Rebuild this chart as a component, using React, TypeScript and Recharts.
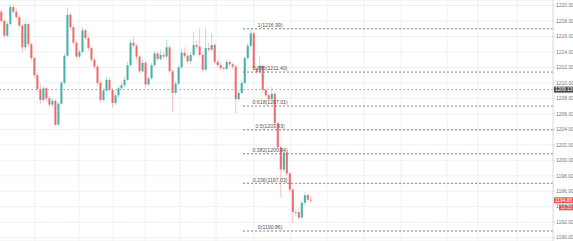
import React from "react";
import {
  ComposedChart,
  Bar,
  XAxis,
  YAxis,
  CartesianGrid,
  ReferenceLine,
} from "recharts";

const opens = [
  1219.2, 1218.0, 1216.1, 1217.6, 1219.8, 1219.2, 1218.5, 1217.4, 1214.6, 1217.6,
  1215.0, 1213.2, 1211.0, 1209.2, 1207.8, 1209.3, 1208.0, 1207.2, 1207.7, 1204.6,
  1207.3, 1210.0, 1213.5, 1218.8, 1217.2, 1215.2, 1213.4, 1214.0, 1216.8, 1215.8,
  1214.5, 1213.0, 1212.1, 1210.0, 1207.8, 1209.0, 1210.4, 1209.1, 1207.4, 1208.4,
  1209.3, 1209.7, 1210.4, 1212.3, 1215.2, 1214.8, 1213.4, 1211.5, 1212.6, 1209.8,
  1210.6, 1212.3, 1213.8, 1213.1, 1213.6, 1213.4, 1214.6, 1211.5, 1208.7, 1209.9,
  1212.0, 1213.9, 1213.5, 1212.8, 1213.6, 1214.9, 1214.7, 1213.6, 1211.7, 1214.5,
  1214.3, 1214.9, 1212.7, 1212.3, 1211.9, 1211.8, 1212.7, 1212.4, 1212.1, 1207.9,
  1208.7, 1210.0, 1213.2, 1214.8, 1216.4, 1211.9, 1211.4, 1212.2, 1209.1, 1208.4,
  1207.9, 1208.6, 1204.8, 1201.7, 1198.8, 1201.0, 1198.3, 1196.2, 1193.3, 1193.3,
  1192.6, 1194.5, 1195.5, 1194.9,
];
const highs = [
  1219.5, 1218.2, 1217.9, 1220.2, 1220.1, 1219.6, 1218.8, 1217.6, 1218.0, 1217.8,
  1215.3, 1213.4, 1211.3, 1209.9, 1209.6, 1209.5, 1208.3, 1208.0, 1207.9, 1207.5,
  1210.3, 1213.8, 1219.7, 1219.0, 1217.5, 1215.4, 1214.3, 1217.2, 1217.0, 1216.0,
  1214.7, 1213.2, 1212.3, 1210.2, 1209.3, 1210.8, 1210.6, 1209.3, 1208.7, 1209.6,
  1210.1, 1210.8, 1212.7, 1215.6, 1215.9, 1215.0, 1213.6, 1213.0, 1212.8, 1210.9,
  1212.6, 1214.1, 1214.0, 1214.3, 1214.0, 1215.6, 1214.8, 1211.8, 1210.2, 1212.3,
  1214.4, 1214.6, 1213.8, 1214.0, 1216.6, 1215.4, 1217.0, 1213.9, 1217.1, 1215.2,
  1216.4, 1215.1, 1213.0, 1212.6, 1212.2, 1213.1, 1212.9, 1212.6, 1212.3, 1209.0,
  1210.3, 1213.5, 1215.2, 1216.99, 1216.6, 1212.1, 1213.4, 1212.4, 1209.3, 1208.6,
  1209.5, 1208.8, 1205.0, 1201.9, 1201.3, 1201.2, 1198.5, 1196.4, 1193.6, 1193.9,
  1194.8, 1195.9, 1195.8, 1195.4,
];
const lows = [
  1217.8, 1215.8, 1215.9, 1217.4, 1218.9, 1218.2, 1217.0, 1214.0, 1214.2, 1214.6,
  1212.9, 1210.6, 1208.9, 1207.2, 1207.5, 1207.5, 1206.9, 1206.9, 1204.4, 1204.5,
  1207.1, 1209.8, 1213.3, 1216.8, 1214.9, 1213.1, 1213.2, 1213.8, 1215.5, 1214.2,
  1212.7, 1211.8, 1209.6, 1207.4, 1207.6, 1208.8, 1208.8, 1206.8, 1207.2, 1208.1,
  1209.0, 1209.4, 1210.2, 1212.0, 1214.4, 1213.0, 1211.2, 1211.3, 1209.4, 1209.6,
  1210.4, 1212.0, 1212.8, 1212.9, 1213.1, 1213.2, 1211.2, 1206.2, 1208.5, 1209.7,
  1211.8, 1213.2, 1212.5, 1212.4, 1213.4, 1214.4, 1213.3, 1211.3, 1211.5, 1214.0,
  1214.1, 1212.4, 1212.0, 1211.6, 1211.5, 1211.6, 1212.1, 1211.8, 1206.1, 1207.6,
  1208.5, 1209.8, 1213.0, 1214.6, 1211.6, 1211.1, 1211.2, 1208.8, 1208.1, 1207.6,
  1207.7, 1204.5, 1201.4, 1195.2, 1198.5, 1197.9, 1195.8, 1191.9, 1192.8, 1192.3,
  1192.4, 1194.2, 1194.6, 1194.5,
];
const closes = [
  1218.0, 1216.1, 1217.6, 1219.8, 1219.2, 1218.5, 1217.4, 1214.6, 1217.6, 1215.0,
  1213.2, 1211.0, 1209.2, 1207.8, 1209.3, 1208.0, 1207.2, 1207.7, 1204.6, 1207.3,
  1210.0, 1213.5, 1218.8, 1217.2, 1215.2, 1213.4, 1214.0, 1216.8, 1215.8, 1214.5,
  1213.0, 1212.1, 1210.0, 1207.8, 1209.0, 1210.4, 1209.1, 1207.4, 1208.4, 1209.3,
  1209.7, 1210.4, 1212.3, 1215.2, 1214.8, 1213.4, 1211.5, 1212.6, 1209.8, 1210.6,
  1212.3, 1213.8, 1213.1, 1213.6, 1213.4, 1214.6, 1211.5, 1208.7, 1209.9, 1212.0,
  1213.9, 1213.5, 1212.8, 1213.6, 1214.9, 1214.7, 1213.6, 1211.7, 1214.5, 1214.3,
  1214.9, 1212.7, 1212.3, 1211.9, 1211.8, 1212.7, 1212.4, 1212.1, 1207.9, 1208.7,
  1210.0, 1213.2, 1214.8, 1216.4, 1211.9, 1211.4, 1212.2, 1209.1, 1208.4, 1207.9,
  1208.6, 1204.8, 1201.7, 1198.8, 1201.0, 1198.3, 1196.2, 1193.3, 1193.3, 1192.6,
  1194.5, 1195.5, 1194.9, 1194.83,
];

// fibonacci retracement levels
const fibRatios = ["1", "0.786", "0.618", "0.5", "0.382", "0.236", "0"];
const fibPrices = [1216.99, 1211.4, 1207.01, 1203.93, 1200.84, 1197.03, 1190.86];
const fibFromBar = 80.4;

const yTicks = [
  1190, 1192, 1194, 1196, 1198, 1200, 1202, 1204, 1206, 1208, 1210, 1212, 1214,
  1216, 1218, 1220,
];
const crossPrice = 1209.13;
const lastPrice = 1194.83;
const countdown = "16:39";
const totalBars = 184;

const UP = "#26a69a";
const DOWN = "#ef5350";
const FONT = "Liberation Sans, Arial, sans-serif";

const data = closes.map((c, i) => ({
  i,
  open: opens[i],
  high: highs[i],
  low: lows[i],
  close: c,
  range: [lows[i], highs[i]],
}));

const Candle = (props: any) => {
  const { x, y, width, height, payload } = props;
  if (!payload) return null;
  const { open, close, high, low } = payload;
  const top = Math.min(y, y + height);
  const bottom = Math.max(y, y + height);
  const k = (bottom - top) / (high - low || 1);
  const yo = top + (high - open) * k;
  const yc = top + (high - close) * k;
  const color = close >= open ? UP : DOWN;
  const cx = x + width / 2;
  const bw = 2.1;
  return (
    <g>
      <line x1={cx} x2={cx} y1={top} y2={bottom} stroke={color} strokeOpacity={0.35} strokeWidth={1} />
      <rect
        x={cx - bw / 2}
        y={Math.min(yo, yc)}
        width={bw}
        height={Math.max(0.8, Math.abs(yo - yc))}
        fill={color}
        fillOpacity={0.8}
      />
    </g>
  );
};

const FibLabel = ({ viewBox, text }: any) => {
  if (!viewBox) return null;
  return (
    <text
      x={viewBox.x + 27}
      y={viewBox.y - 1.6}
      textAnchor="middle"
      fontSize={5.2}
      fontFamily={FONT}
      fill="#555"
    >
      {text}
    </text>
  );
};

const AxisTag = ({ viewBox, text, bg, sub }: any) => {
  if (!viewBox) return null;
  const right = viewBox.x + viewBox.width;
  const cy = viewBox.y;
  return (
    <g>
      <rect x={right + 1} y={cy - 3} width={19} height={6} fill={bg} />
      <text x={right + 2} y={cy + 1.8} fontSize={4.8} fontFamily={FONT} fill="#fff">
        {text}
      </text>
      {sub && (
        <g>
          <rect x={right + 6} y={cy + 4.6} width={14} height={5.4} fill={bg} />
          <text x={right + 7.5} y={cy + 9.1} fontSize={4.6} fontFamily={FONT} fill="#fff">
            {sub}
          </text>
        </g>
      )}
    </g>
  );
};

export default function App() {
  return (
    <div style={{ position: "absolute", left: 0, top: 0, background: "#fff" }}>
      <ComposedChart
        width={573}
        height={241}
        data={data}
        margin={{ top: 0, right: 0, bottom: 0, left: 0 }}
      >
        <CartesianGrid
          stroke="#eef0f4"
          verticalPoints={[35, 79, 113, 145, 180, 216, 254, 291, 327, 364, 401, 447, 478, 517]}
        />
        <XAxis
          dataKey="i"
          type="number"
          domain={[-0.5, totalBars - 0.5]}
          allowDataOverflow
          hide
        />
        <YAxis
          orientation="right"
          width={20}
          domain={[1189.57, 1220.71]}
          allowDataOverflow
          ticks={yTicks}
          tickFormatter={(v: number) => v.toFixed(2)}
          tick={{ fontSize: 5, fill: "#777", fontFamily: FONT, textAnchor: "start" }}
          tickSize={2}
          tickMargin={1}
          axisLine={{ stroke: "#d6d8dc" }}
          tickLine={{ stroke: "#d6d8dc" }}
          interval={0}
        />
        <ReferenceLine
          y={crossPrice}
          stroke="#9a9da5"
          strokeDasharray="1.5 2.5"
          label={<AxisTag text={crossPrice.toFixed(2)} bg="#4a4a4a" />}
        />
        {fibPrices.map((p, k) => (
          <ReferenceLine
            key={fibRatios[k]}
            segment={[
              { x: fibFromBar, y: p },
              { x: totalBars - 0.5, y: p },
            ]}
            stroke="#7a7a7a"
            strokeDasharray="2 2"
            label={<FibLabel text={`${fibRatios[k]}(${p.toFixed(2)})`} />}
          />
        ))}
        <Bar dataKey="range" shape={<Candle />} isAnimationActive={false} />
        <ReferenceLine
          y={lastPrice}
          stroke="none"
          label={<AxisTag text={lastPrice.toFixed(2)} bg={DOWN} sub={countdown} />}
        />
      </ComposedChart>
    </div>
  );
}
